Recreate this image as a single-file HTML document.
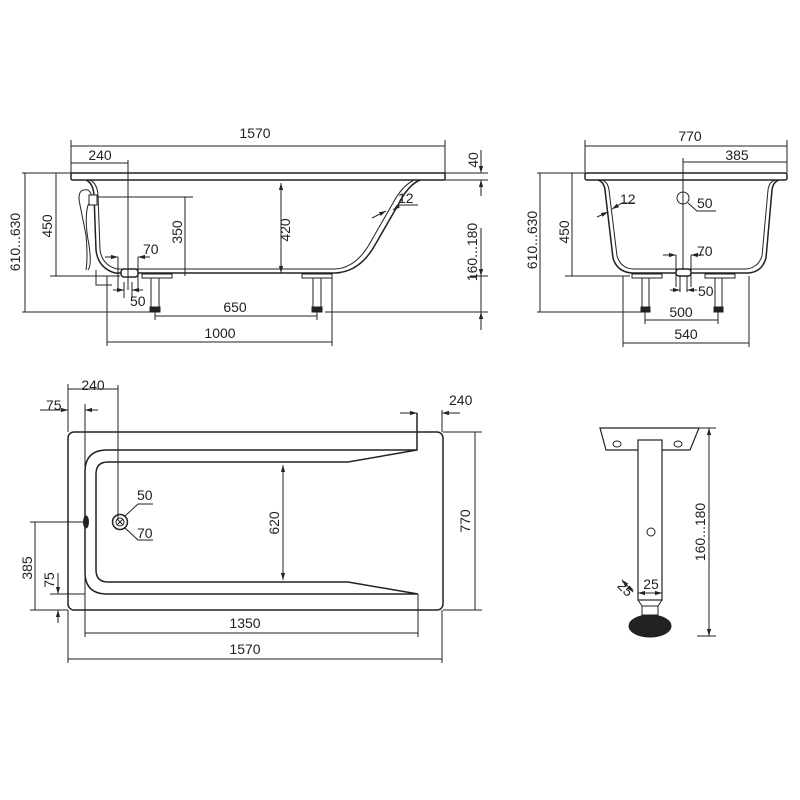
<!DOCTYPE html>
<html><head><meta charset="utf-8"><style>html,body{margin:0;background:#fff}svg{display:block}text{font-family:"Liberation Sans",sans-serif;font-size:14px;fill:#222}</style></head><body>
<svg width="800" height="800" viewBox="0 0 800 800" xmlns="http://www.w3.org/2000/svg">
<defs><marker id="a" viewBox="0 0 10 10" refX="10" refY="5" markerWidth="7" markerHeight="7" orient="auto-start-reverse"><path d="M0,2L10,5L0,8z" fill="#222"/></marker></defs>
<g stroke="#222" stroke-width="1" fill="none">
<!-- SIDE VIEW -->
<rect x="71" y="173" width="374" height="7" rx="1.5" stroke-width="1.5"/>
<path d="M86,180 Q93,183 94,195 L96,250 Q98,268 115,273 L335,273 Q360,272 375,245 L398,205 Q408,185 420,180" stroke-width="1.5"/>
<path d="M90,180 Q97,183 98,195 L100,250 Q102,265 117,269 L335,269 Q356,268 370,243 L393,203 Q402,186 414,180"/>
<path d="M88,190 Q76,188 80,205 L86,235 Q88,258 86,270 M88,190 Q95,195 88,205 Q84,220 89,245 Q92,265 88,270"/>
<rect x="89" y="195" width="8" height="10" fill="#fff"/>
<path d="M96,270 L96,285 L112,285 M96,276 L120,276"/>
<rect x="121" y="269" width="17" height="8" rx="3" fill="#fff" stroke-width="1.5"/>
<rect x="142" y="274" width="30" height="4"/><rect x="302" y="274" width="30" height="4"/>
<rect x="151" y="278" width="8" height="29"/><rect x="313" y="278" width="8" height="29"/>
<rect x="150" y="307" width="10" height="5" fill="#222"/><rect x="312" y="307" width="10" height="5" fill="#222"/>
<path d="M71,173V140 M445,173V140 M71,146H445 M71,163H128 M128,160V290 M445,173H488 M430,180H488 M481,150V173 M481,180V196 M22,173H71 M22,312H160 M25,173V312 M50,173H71 M50,276H120 M56,173V276 M97,197H193 M185,197V276 M481,228V276 M481,276V312 M470,276H488 M325,312H488 M107,276V346 M332,276V346 M107,342H332 M155,312V320 M155,316H317 M317,312V320 M118,257V290 M138,257V290 M124,282V298 M132,282V298"/>
<path d="M281,183V273" marker-start="url(#a)" marker-end="url(#a)"/>
<path d="M481,150V173" marker-end="url(#a)"/><path d="M481,196V180" marker-end="url(#a)"/>
<path d="M481,228V276" marker-end="url(#a)"/><path d="M481,330V312" marker-end="url(#a)"/>
<path d="M105,257H118" marker-end="url(#a)"/><path d="M150,257H138" marker-end="url(#a)"/>
<path d="M113,290H124" marker-end="url(#a)"/><path d="M143,290H132" marker-end="url(#a)"/>
<path d="M372,218L386,211" marker-end="url(#a)"/><path d="M418,205H400L393,210" marker-end="url(#a)"/>
<!-- END VIEW -->
<rect x="585" y="173" width="202" height="7" rx="2" stroke-width="1.5"/>
<path d="M598,180 Q604,182 605,190 L613,258 Q617,272 632,273 L748,273 Q762,272 766,258 L772,190 Q773,182 779,180" stroke-width="1.5"/>
<path d="M602,180 Q608,182 609,190 L617,256 Q621,269 634,269 L746,269 Q758,268 762,256 L768,190 Q769,182 775,180"/>
<circle cx="683" cy="198" r="6"/>
<rect x="676" y="269" width="15" height="7" rx="3" fill="#fff" stroke-width="1.5"/>
<rect x="632" y="274" width="30" height="4"/><rect x="705" y="274" width="30" height="4"/>
<rect x="642" y="278" width="7" height="29"/><rect x="715" y="278" width="7" height="29"/>
<rect x="641" y="307" width="9" height="5" fill="#222"/><rect x="714" y="307" width="9" height="5" fill="#222"/>
<path d="M585,173V140 M787,173V140 M585,146H787 M683,158V270 M683,162H787 M537,173H585 M537,312H645 M540,173V312 M565,173H585 M565,276H630 M572,173V276 M623,276V347 M749,276V347 M623,343H749 M645,312V324 M718,312V324 M645,320H718 M676,255V287 M691,255V287 M680,276V292 M687,276V292 M688,203L697,211H716"/>
<path d="M663,255H676" marker-end="url(#a)"/><path d="M704,255H691" marker-end="url(#a)"/>
<path d="M670,290H680" marker-end="url(#a)"/><path d="M697,290H687" marker-end="url(#a)"/>
<path d="M597,217L608,212" marker-end="url(#a)"/><path d="M635,203H622L612,209" marker-end="url(#a)"/>
<!-- TOP VIEW -->
<rect x="68" y="432" width="375" height="178" rx="6" stroke-width="1.5"/>
<path d="M417,450H107Q85,450 85,472V572Q85,594 107,594H418L348,582H108Q96,582 96,570V474Q96,462 108,462H348L417,450V413" stroke-width="1.5"/>
<path d="M418,594V600"/>
<circle cx="120" cy="522" r="7.5" stroke-width="1.5"/><circle cx="120" cy="522" r="4"/>
<path d="M117,519L123,525M123,519L117,525"/>
<ellipse cx="86" cy="522" rx="2.5" ry="6" fill="#222"/>
<path d="M68,432V384 M118,385V520 M68,389H118 M85,404V598 M442,432V410 M30,522H86 M35,522V610 M30,610H68 M50,594H85 M443,432H482 M443,610H482 M475,432V610 M85,598V637 M418,598V637 M85,633H418 M68,610V663 M442,610V663 M68,659H442 M125,516L138,504H153 M125,528L138,540H153"/>
<path d="M40,410H68" marker-end="url(#a)"/><path d="M98,410H85" marker-end="url(#a)"/>
<path d="M400,413H417" marker-end="url(#a)"/><path d="M460,413H442" marker-end="url(#a)"/>
<path d="M283,465V580" marker-start="url(#a)" marker-end="url(#a)"/>
<path d="M58,573V594" marker-end="url(#a)"/><path d="M58,623V610" marker-end="url(#a)"/>
<path d="M475,432V610"/>
<!-- LEG -->
<path d="M600,428H699L690,450H606Z" stroke-width="1.2"/>
<ellipse cx="617" cy="444" rx="4" ry="3"/><ellipse cx="678" cy="444" rx="4" ry="3"/>
<rect x="638" y="440" width="24" height="160" fill="#fff" stroke-width="1.2"/>
<circle cx="651" cy="532" r="4"/>
<path d="M638,600L642,606H658L662,600"/><rect x="642" y="606" width="16" height="9"/>
<ellipse cx="650" cy="626" rx="21" ry="11" fill="#222"/>
<path d="M697,428H716 M697,636H716"/>
<path d="M709,428V636" marker-start="url(#a)" marker-end="url(#a)"/>
<path d="M638,593H662" marker-start="url(#a)" marker-end="url(#a)"/>
<path d="M622,580L633,592" marker-start="url(#a)" marker-end="url(#a)"/>
</g>
<text x="255" y="138" text-anchor="middle">1570</text>
<text x="100" y="160" text-anchor="middle">240</text>
<text x="143" y="254">70</text>
<text x="130" y="306">50</text>
<text x="235" y="312" text-anchor="middle">650</text>
<text x="220" y="338" text-anchor="middle">1000</text>
<text x="398" y="203">12</text>
<text transform="translate(478,160) rotate(-90)" text-anchor="middle">40</text>
<text transform="translate(477,252) rotate(-90)" text-anchor="middle">160...180</text>
<text transform="translate(290,230) rotate(-90)" text-anchor="middle">420</text>
<text transform="translate(182,232) rotate(-90)" text-anchor="middle">350</text>
<text transform="translate(52,226) rotate(-90)" text-anchor="middle">450</text>
<text transform="translate(20,242) rotate(-90)" text-anchor="middle">610...630</text>
<text x="690" y="141" text-anchor="middle">770</text>
<text x="737" y="160" text-anchor="middle">385</text>
<text x="697" y="208">50</text>
<text x="620" y="204">12</text>
<text x="697" y="256">70</text>
<text x="698" y="296">50</text>
<text x="681" y="317" text-anchor="middle">500</text>
<text x="686" y="339" text-anchor="middle">540</text>
<text transform="translate(569,232) rotate(-90)" text-anchor="middle">450</text>
<text transform="translate(537,240) rotate(-90)" text-anchor="middle">610...630</text>
<text x="93" y="390" text-anchor="middle">240</text>
<text x="46" y="410" font-size="12">75</text>
<text x="449" y="405">240</text>
<text x="137" y="500">50</text>
<text x="137" y="538">70</text>
<text transform="translate(279,523) rotate(-90)" text-anchor="middle">620</text>
<text transform="translate(470,521) rotate(-90)" text-anchor="middle">770</text>
<text transform="translate(32,568) rotate(-90)" text-anchor="middle">385</text>
<text transform="translate(54,580) rotate(-90)" text-anchor="middle" font-size="12">75</text>
<text x="245" y="628" text-anchor="middle">1350</text>
<text x="245" y="654" text-anchor="middle">1570</text>
<text x="651" y="589" text-anchor="middle">25</text>
<text transform="translate(622,592) rotate(45)" text-anchor="middle" font-size="12">25</text>
<text transform="translate(705,532) rotate(-90)" text-anchor="middle">160...180</text>
</svg>
</body></html>
